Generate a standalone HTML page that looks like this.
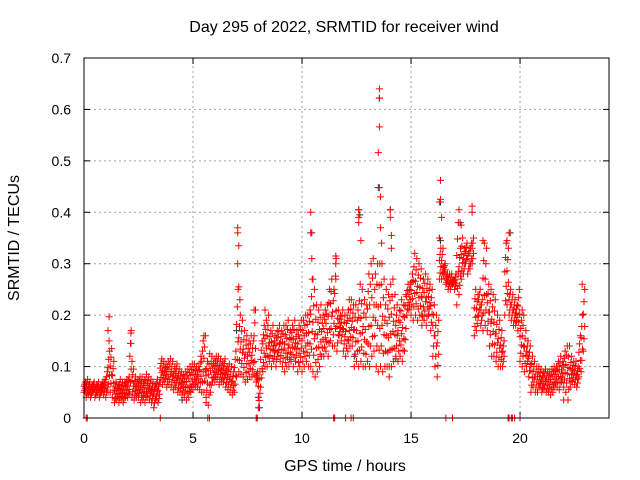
<!DOCTYPE html>
<html><head><meta charset="utf-8"><style>
body{margin:0;background:#fff}
svg{display:block;font-family:"Liberation Sans",sans-serif}
</style></head><body>
<svg id="chart" width="640" height="480" viewBox="0 0 640 480">
<rect width="640" height="480" fill="#fff"/>
<text x="344" y="32" font-size="16" text-anchor="middle" fill="#000">Day 295 of 2022, SRMTID for receiver wind</text>
<text transform="translate(19,238) rotate(-90)" font-size="16" text-anchor="middle">SRMTID / TECUs</text>
<text x="345" y="471" font-size="16" text-anchor="middle">GPS time / hours</text>
<g id="grid"></g><g id="ticks"></g><g id="marks"></g>
<rect x="84" y="58" width="525" height="360" fill="none" stroke="#000" stroke-width="1"/>
</svg>
<script>
const xTicks=[0,5,10,15,20];
const yTicks=[0,0.1,0.2,0.3,0.4,0.5,0.6,0.7];
const yTickLabels=["0","0.1","0.2","0.3","0.4","0.5","0.6","0.7"];
const tStart=0, tStep=0.1;
const lowValues=[.05,.04,.045,.04,.05,.04,.045,.04,.05,.045,
.04,.05,.05,.04,.03,.035,.03,.035,.03,.04,
.04,.045,.04,.035,.04,.04,.03,.035,.03,.04,
.035,.03,.02,.035,.03,.07,.065,.07,.06,.065,
.06,.055,.06,.05,.05,.045,.04,.035,.04,.05,
.055,.06,.06,.055,.05,.05,.04,.025,.05,.07,
.07,.075,.065,.07,.07,.06,.055,.05,.045,.05,
.08,.09,.085,.08,.07,.075,.08,.08,.085,.07,
.02,.06,.09,.1,.1,.11,.1,.11,.1,.12,
.11,.1,.09,.1,.1,.11,.1,.11,.09,.1,
.09,.1,.11,.1,.1,.09,.08,.09,.1,.12,
.12,.13,.12,.15,.14,.14,.13,.16,.15,.13,
.12,.13,.14,.14,.1,.11,.1,.11,.1,.1,
.11,.1,.12,.13,.1,.09,.1,.09,.1,.1,
.1,.1,.11,.12,.11,.12,.11,.13,.2,.21,
.2,.19,.2,.19,.2,.18,.19,.18,.2,.17,
.12,.1,.08,.27,.27,.28,.26,.25,.25,.26,
.25,.22,.24,.27,.28,.3,.28,.29,.3,.16,
.17,.2,.18,.17,.18,.17,.14,.12,.12,.11,
.1,.1,.1,.2,.22,.2,.19,.18,.18,.17,
.11,.1,.09,.1,.08,.05,.06,.05,.05,.06,
.05,.055,.05,.05,.045,.05,.06,.06,.055,.07,
.06,.05,.035,.06,.07,.065,.06,.08,.09,.13];
const highValues=[.07,.075,.07,.065,.07,.065,.07,.065,.07,.075,
.09,.13,.135,.11,.07,.065,.075,.07,.07,.075,
.08,.17,.095,.08,.075,.08,.08,.075,.085,.08,
.075,.07,.065,.075,.07,.115,.11,.105,.11,.115,
.11,.1,.105,.095,.09,.085,.09,.095,.1,.105,
.105,.1,.1,.12,.15,.16,.11,.125,.12,.115,
.12,.12,.115,.11,.115,.1,.105,.1,.09,.13,
.25,.2,.19,.17,.16,.15,.16,.15,.21,.09,
.09,.15,.18,.19,.2,.17,.18,.16,.17,.18,
.17,.18,.18,.19,.17,.18,.19,.17,.18,.19,
.19,.2,.2,.21,.27,.25,.22,.21,.22,.2,
.21,.22,.25,.27,.25,.31,.21,.2,.21,.2,
.2,.23,.23,.22,.22,.21,.26,.25,.23,.22,
.28,.3,.31,.28,.3,.3,.3,.27,.25,.24,
.26,.27,.24,.22,.21,.23,.22,.24,.26,.26,
.28,.32,.31,.3,.29,.27,.28,.27,.26,.25,
.22,.2,.19,.33,.33,.3,.28,.28,.28,.27,
.28,.38,.33,.35,.33,.34,.33,.34,.35,.25,
.24,.25,.23,.34,.33,.26,.25,.24,.23,.2,
.19,.17,.15,.34,.33,.25,.24,.23,.22,.25,
.19,.2,.17,.15,.14,.12,.11,.1,.1,.095,
.09,.095,.09,.09,.095,.1,.1,.11,.12,.11,
.13,.14,.14,.12,.11,.11,.1,.16,.2,.25];
const spikeTimes=[1.15,1.1,1.15,2.15,2.15,2.2,5.5,5.6,7.05,7.05,7.1,7.05,7.1,7.15,7.8,8.0,8.0,8.3,10.4,10.4,10.45,10.5,11.55,11.55,11.55,12.6,12.6,12.6,12.7,12.8,13.55,13.55,13.55,13.5,13.55,13.6,13.6,13.65,14.05,14.05,14.1,14.1,14.0,16.35,16.3,16.35,16.4,16.3,16.2,17.2,17.3,17.8,17.8,18.3,19.5,19.4,20.1,22.0,22.85];
const spikeValues=[.197,.17,.15,.165,.145,.11,.16,.03,.37,.36,.335,.3,.255,.23,.21,.02,.04,.21,.4,.36,.31,.27,.315,.3,.27,.405,.39,.38,.345,.1,.64,.622,.566,.516,.448,.43,.37,.34,.405,.39,.355,.33,.08,.462,.42,.425,.39,.35,.08,.405,.375,.412,.4,.345,.36,.345,.21,.035,.26];
const zeroTimes=[0.1,0.15,3.5,5.68,5.75,7.9,7.95,11.45,11.5,12.0,12.25,12.35,16.6,16.9,19.45,19.5,19.6,19.65,19.75,20.0];
const blackTimes=[13.55,13.5,12.6,12.65,14.05,16.35,16.3,16.35,10.45,19.55,17.25,7.0,8.0,8.05,14.3,12.4,15.5,4.5];
const blackValues=[.622,.448,.405,.395,.405,.42,.35,.345,.36,.36,.38,.17,.04,.02,.115,.12,.2,.035];

const X0=84,X1=609,Y0=418,Y1=58,XMAX=24.08,YMAX=0.7;
const sx=t=>X0+(X1-X0)*t/XMAX;
const sy=v=>Y0-(Y0-Y1)*v/YMAX;
const NS="http://www.w3.org/2000/svg";
const grid=document.getElementById('grid'),ticks=document.getElementById('ticks'),marks=document.getElementById('marks');
function mk(tag,attrs,parent){const e=document.createElementNS(NS,tag);for(const k in attrs)e.setAttribute(k,attrs[k]);parent.appendChild(e);return e;}
xTicks.forEach(t=>{
  const x=sx(t);
  if(t>0){const g=mk('line',{x1:x,y1:Y0,x2:x,y2:Y1,stroke:'#a0a0a0','stroke-dasharray':'2,3'},grid);
  
  }
  mk('line',{x1:x,y1:Y0,x2:x,y2:Y0-6,stroke:'#000'},ticks);
  mk('line',{x1:x,y1:Y1,x2:x,y2:Y1+6,stroke:'#000'},ticks);
  const l=mk('text',{x:x,y:443,'font-size':14,'text-anchor':'middle'},ticks);
  l.textContent=String(t);
  
  
});
yTicks.forEach((v,i)=>{
  const y=sy(v);
  if(v>0&&v<YMAX){const g=mk('line',{x1:X0,y1:y,x2:X1,y2:y,stroke:'#a0a0a0','stroke-dasharray':'2,3'},grid);
  
  }
  mk('line',{x1:X0,y1:y,x2:X0+6,y2:y,stroke:'#000'},ticks);
  mk('line',{x1:X1,y1:y,x2:X1-6,y2:y,stroke:'#000'},ticks);
  const l=mk('text',{x:X0-13,y:y+5,'font-size':14,'text-anchor':'end'},ticks);
  l.textContent=yTickLabels[i];
  
  
});
let dB='',dR='';
const plus=(t,v)=>{const x=sx(t),y=sy(v);return `M${(x-3.5).toFixed(1)} ${y.toFixed(1)}h7M${x.toFixed(1)} ${(y-3.5).toFixed(1)}v7`;};
blackTimes.forEach((t,i)=>{dB+=plus(t,blackValues[i]);});
const fracs=[0,0.2,0.4,0.6,0.8,1];
lowValues.forEach((v,i)=>{
  const t=tStart+i*tStep,h=highValues[i];
  fracs.forEach((f,k)=>{dR+=plus(t+tStep*((k%3)/3),v+(h-v)*f);});
});
spikeTimes.forEach((t,i)=>{dR+=plus(t,spikeValues[i]);});
zeroTimes.forEach(t=>{dR+=plus(t,0);});
const pb=mk('path',{d:dB,stroke:'#333',fill:'none','stroke-width':1},marks);


const pr=mk('path',{d:dR,stroke:'#ff0000',fill:'none','stroke-width':1},marks);


</script>
</body></html>
